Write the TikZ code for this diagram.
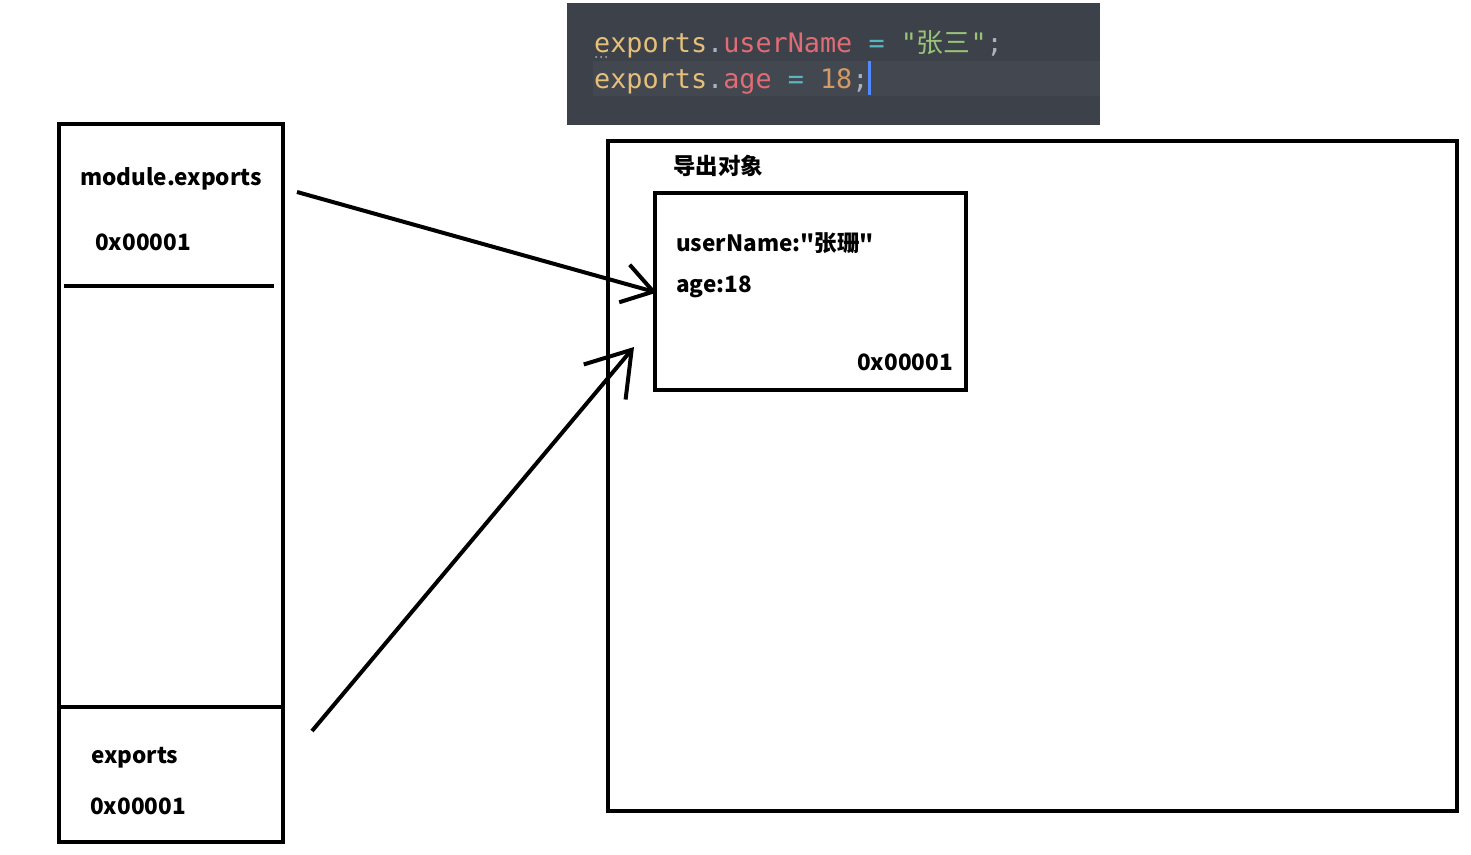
\documentclass[tikz,border=0pt]{standalone}
\usepackage{fontspec}
\setmainfont{Noto Sans CJK SC}[Ligatures=TeXOff]
\setmonofont{DejaVu Sans Mono}
\newfontfamily\cjk{Noto Sans CJK SC}
\usepackage{tikz}
\usetikzlibrary{arrows.meta, positioning}
\usepackage{xcolor}
\definecolor{codebg}{RGB}{61,65,73}
\definecolor{codeline}{RGB}{67,71,80}
\definecolor{cyel}{HTML}{E5C07B}
\definecolor{cred}{HTML}{E06C75}
\definecolor{ccyan}{HTML}{56B6C2}
\definecolor{cgreen}{HTML}{98C379}
\definecolor{corange}{HTML}{D19A66}
\definecolor{cgray}{HTML}{ABB2BF}
\definecolor{ccursor}{HTML}{528BFF}

\begin{document}
\begin{tikzpicture}[x=1pt, y=-1pt]
  \tikzset{
    box/.style={draw, line width=4pt, inner sep=0pt},
    label text/.style={inner sep=0pt, anchor=base west, font=\fontsize{22.5}{26}\selectfont\bfseries},
    code text/.style={inner sep=0pt, anchor=base west, font=\fontsize{26.8}{30}\selectfont\ttfamily},
    pointer/.style={line width=4pt, -{Straight Barb[length=#1pt, width=1.3*#1pt, line width=4pt]}}
  }
  \useasboundingbox (0,0) rectangle (1471,854);

  % code snippet
  \node [fill=codebg, minimum width=533pt, minimum height=122pt, inner sep=0pt] (code) at (833.5,64) {};
  \fill [codeline] (593,61) rectangle (1100,96);
  \node [code text] (line-1) at (594,52)
    {\color{cyel}exports\color{cgray}.\color{cred}userName \color{ccyan}= \color{cgreen}"{\cjk 张三}"\color{cgray};};
  \node [code text] (line-2) at (594,88)
    {\color{cyel}exports\color{cgray}.\color{cred}age \color{ccyan}= \color{corange}18\color{cgray};};
  \fill [ccursor] (868,61) rectangle (871,95);
  \foreach \x in {596,601,606}
    \fill [cgray] (\x,57) circle (1pt);

  % left memory column
  \node [box, minimum width=224pt, minimum height=718pt] (stack) at (171,483) {};
  \draw [line width=4pt] (64,286) -- (274,286);
  \draw [line width=4pt] (60,707) -- (283,707);
  \node [label text] (me-name) at (80,185) {module.exports};
  \node [label text] (me-addr) at (95,250) {0x00001};
  \node [label text] (ex-name) at (91,763) {exports};
  \node [label text] (ex-addr) at (90,814) {0x00001};

  % heap
  \node [box, minimum width=849pt, minimum height=670pt] (heap) at (1032.5,476) {};
  \node [label text] (heap-title) at (673,174) {导出对象};
  \node [box, minimum width=311pt, minimum height=197pt] (obj) at (810.5,291.5) {};
  \node [label text] (obj-name) at (676,251) {userName:"张珊"};
  \node [label text] (obj-age) at (676,292) {age:18};
  \node [label text, anchor=base east] (obj-addr) at (953,370) {0x00001};

  % references
  \coordinate (me-tail) at (297,192);
  \coordinate (ex-tail) at (312,731);
  \coordinate (ex-tip) at (634,347);
  \draw [pointer=30, shorten >=-4pt] (me-tail) -- (obj.west);
  \draw [pointer=42] (ex-tail) -- (ex-tip);
\end{tikzpicture}
\end{document}
